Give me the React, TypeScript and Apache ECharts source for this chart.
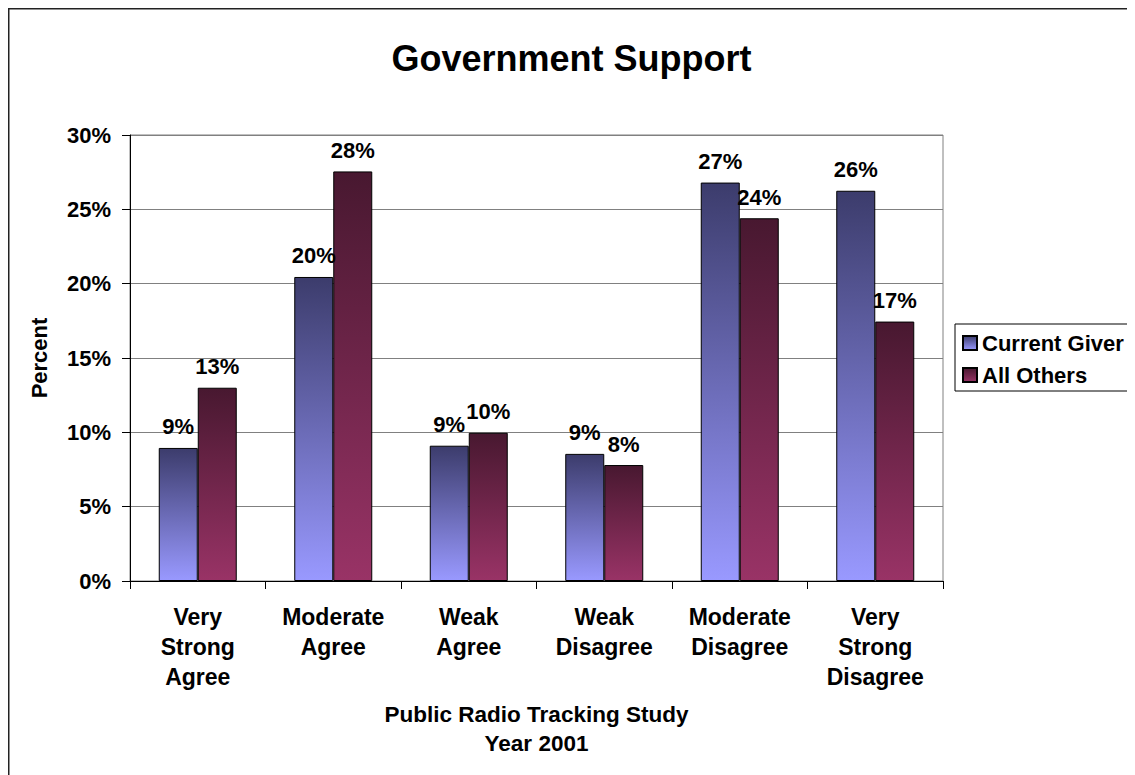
import React, { useEffect, useRef } from "react";
import * as echarts from "echarts";

const categories = [
  "Very\nStrong\nAgree",
  "Moderate\nAgree",
  "Weak\nAgree",
  "Weak\nDisagree",
  "Moderate\nDisagree",
  "Very\nStrong\nDisagree",
];
const currentGiver = [8.95, 20.45, 9.1, 8.55, 26.8, 26.25];
const allOthers = [13.0, 27.55, 9.97, 7.8, 24.4, 17.45];
const seriesNames = ["Current Giver", "All Others"];
const yMin = 0;
const yMax = 30;
const yStep = 5;

const FONT = "'Liberation Sans', Arial, Helvetica, sans-serif";

export default function App() {
  const ref = useRef<HTMLDivElement>(null);

  useEffect(() => {
    if (!ref.current) return;
    document.documentElement.style.overflow = "hidden";
    document.body.style.overflow = "hidden";
    const chart = echarts.init(ref.current, undefined, { renderer: "svg" });
    const blue = new echarts.graphic.LinearGradient(0, 0, 0, 1, [
      { offset: 0, color: "#3c3c6c" },
      { offset: 1, color: "#9999ff" },
    ]);
    const red = new echarts.graphic.LinearGradient(0, 0, 0, 1, [
      { offset: 0, color: "#481830" },
      { offset: 1, color: "#993366" },
    ]);
    const labelStyle = {
      show: true,
      position: "top" as const,
      distance: 10,
      fontFamily: FONT,
      fontWeight: "bold" as const,
      fontSize: 22,
      color: "#000",
      formatter: (p: any) => Math.round(p.value) + "%",
    };
    chart.setOption({
      animation: false,
      backgroundColor: "#fff",
      textStyle: { fontFamily: FONT },
      title: {
        text: "Government Support",
        left: "center",
        top: 27,
        textStyle: {
          fontFamily: FONT,
          fontWeight: "bold",
          fontSize: 36,
          color: "#000",
        },
      },
      graphic: [
        {
          type: "line",
          shape: { x1: 0.75, y1: 0, x2: 0.75, y2: 767 },
          style: { stroke: "#222", lineWidth: 1.5 },
        },
        {
          type: "line",
          shape: { x1: 0, y1: 0.75, x2: 1127, y2: 0.75 },
          style: { stroke: "#222", lineWidth: 1.5 },
        },
      ],
      legend: {
        orient: "vertical",
        left: 947,
        top: 316,
        padding: [8, 10, 5, 7],
        itemGap: 10,
        itemWidth: 14,
        itemHeight: 14,
        borderColor: "#000",
        borderWidth: 1,
        icon: "rect",
        data: seriesNames,
        textStyle: {
          fontFamily: FONT,
          fontWeight: "bold",
          fontSize: 22,
          color: "#000",
        },
      },
      grid: {
        left: 122,
        top: 127,
        right: 192,
        bottom: 194,
        show: true,
        borderColor: "#808080",
        borderWidth: 1,
        containLabel: false,
      },
      xAxis: {
        type: "category",
        data: categories,
        name: "Public Radio Tracking Study\nYear 2001",
        nameLocation: "middle",
        nameGap: 119,
        nameTextStyle: {
          fontFamily: FONT,
          fontWeight: "bold",
          fontSize: 22.5,
          lineHeight: 29,
          color: "#000",
        },
        axisLine: { lineStyle: { color: "#000", width: 1 } },
        axisTick: { show: true, length: 8, lineStyle: { color: "#000" } },
        axisLabel: {
          interval: 0,
          margin: 21,
          fontFamily: FONT,
          fontWeight: "bold",
          fontSize: 23,
          lineHeight: 30,
          color: "#000",
        },
      },
      yAxis: {
        type: "value",
        min: yMin,
        max: yMax,
        interval: yStep,
        name: "Percent",
        nameLocation: "middle",
        nameGap: 80,
        nameTextStyle: {
          fontFamily: FONT,
          fontWeight: "bold",
          fontSize: 22,
          color: "#000",
        },
        axisLine: { show: true, lineStyle: { color: "#000", width: 1 } },
        axisTick: { show: true, length: 8, lineStyle: { color: "#000" } },
        axisLabel: {
          margin: 19,
          formatter: "{value}%",
          fontFamily: FONT,
          fontWeight: "bold",
          fontSize: 22,
          color: "#000",
        },
        splitLine: { show: true, lineStyle: { color: "#808080", width: 1 } },
      },
      series: [
        {
          name: seriesNames[0],
          type: "bar",
          data: currentGiver,
          barWidth: 39,
          barGap: "0%",
          itemStyle: { color: blue, borderColor: "#000", borderWidth: 1 },
          label: labelStyle,
        },
        {
          name: seriesNames[1],
          type: "bar",
          data: allOthers,
          barWidth: 39,
          barGap: "0%",
          itemStyle: { color: red, borderColor: "#000", borderWidth: 1 },
          label: labelStyle,
        },
      ],
    });
    return () => chart.dispose();
  }, []);

  return <div ref={ref} style={{ width: 1127, height: 767 }} />;
}
